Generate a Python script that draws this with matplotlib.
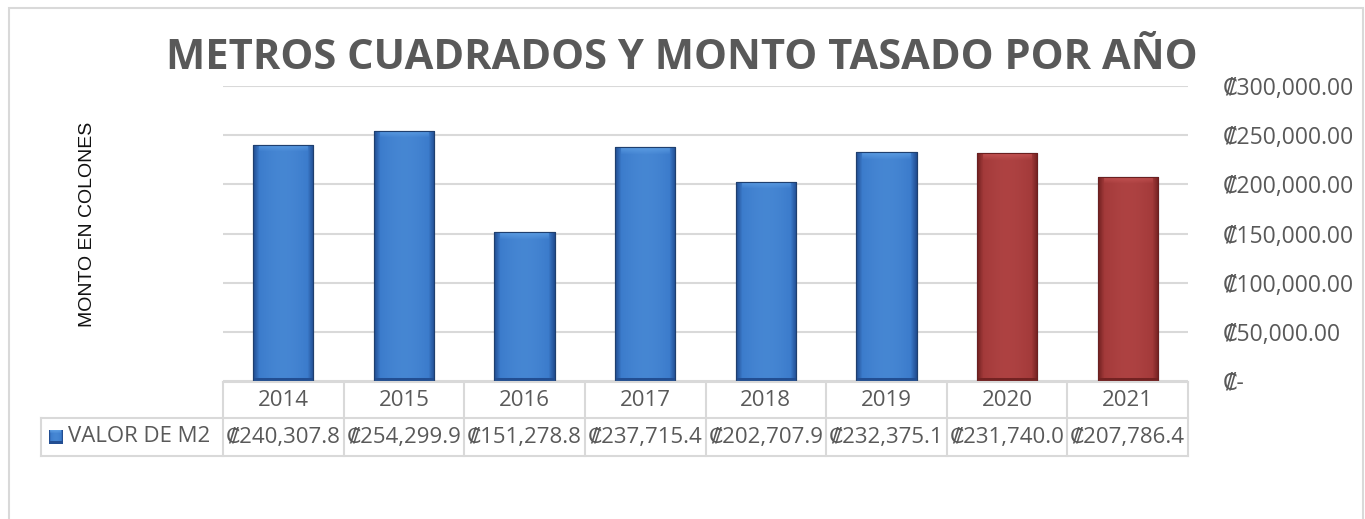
import numpy as np
import matplotlib
matplotlib.use("Agg")
import matplotlib.pyplot as plt
from matplotlib.patches import Rectangle
from matplotlib.ticker import FuncFormatter
import matplotlib.transforms as mtransforms

years = ["2014", "2015", "2016", "2017", "2018", "2019", "2020", "2021"]
values = [240307.8, 254299.9, 151278.8, 237715.4, 202707.9, 232375.1, 231740.0, 207786.4]
value_labels = ["₡240,307.8", "₡254,299.9", "₡151,278.8", "₡237,715.4",
                "₡202,707.9", "₡232,375.1", "₡231,740.0", "₡207,786.4"]
series_name = "VALOR DE M2"
title = "METROS CUADRADOS Y MONTO TASADO POR AÑO"
ylabel = "MONTO EN COLONES"
yticks = [0, 50000, 100000, 150000, 200000, 250000, 300000]

FONT = ["Open Sans", "DejaVu Sans"]
TXT = "#595959"
GRID = "#d9d9d9"

W, H = 1365, 519
fig = plt.figure(figsize=(W / 100, H / 100), dpi=100)
fig.patch.set_facecolor("white")

def px(x0, y0, x1, y1):
    return [x0 / W, 1 - y1 / H, (x1 - x0) / W, (y1 - y0) / H]

ax = fig.add_axes(px(223, 86, 1188, 381))
n = len(years)
x = np.arange(n)
ax.set_xlim(-0.5, n - 0.5)
ax.set_ylim(0, 300000)

# outer chart border
fig.add_artist(Rectangle((9 / W, -0.05), (1363 - 9) / W, 1 - 8 / H + 0.05,
                         transform=fig.transFigure, fill=False, ec=GRID, lw=1.5))

blue = dict(main=np.array([60, 124, 204]), dark=np.array([34, 78, 146]),
            light=np.array([100, 165, 232]))
red = dict(main=np.array([163, 58, 58]), dark=np.array([115, 34, 34]),
           light=np.array([205, 90, 90]))

colors = ["#3c7ccc"] * 6 + ["#a33a3a"] * 2
bars = ax.bar(x, values, width=0.5, color=colors, edgecolor="#2a4f80", lw=0.8, zorder=3)

def grad_img(pal, h_px, w_px=60, bevel=7):
    img = np.zeros((int(h_px), w_px, 3))
    for j in range(w_px):
        t = j / (w_px - 1)
        if t < 0.1:
            c = pal["dark"] + (pal["main"] - pal["dark"]) * (t / 0.1)
        elif t > 0.9:
            c = pal["dark"] + (pal["main"] - pal["dark"]) * ((1 - t) / 0.1)
        else:
            c = pal["main"] + (pal["light"] - pal["main"]) * 0.25 * np.sin(np.pi * (t - 0.1) / 0.8)
        img[:, j, :] = c
    for i in range(min(bevel, int(h_px))):
        f = 1 - i / bevel
        img[i, int(w_px * 0.1):int(w_px * 0.9), :] = (
            img[i, int(w_px * 0.1):int(w_px * 0.9), :] * (1 - 0.7 * f) + pal["light"] * 0.7 * f)
    img[-3:, :, :] = pal["dark"]
    return np.clip(img / 255.0, 0, 1)

for i, b in enumerate(bars):
    pal = blue if i < 6 else red
    x0, y0 = b.get_x(), b.get_y()
    w, h = b.get_width(), b.get_height()
    hpx = h / 300000 * 295
    im = ax.imshow(grad_img(pal, hpx), extent=[x0, x0 + w, y0, y0 + h],
                   aspect="auto", zorder=3.5, interpolation="bilinear")
    im.set_clip_path(b)
    ax.add_patch(Rectangle((x0, y0), w, h, fill=False,
                           ec="#1f3f6e" if i < 6 else "#6a2020", lw=0.8, zorder=4))
ax.set_xlim(-0.5, n - 0.5)
ax.set_ylim(0, 300000)

# grid
ax.set_yticks(yticks)
ax.grid(axis="y", color=GRID, lw=1.5, zorder=0)
for s in ax.spines.values():
    s.set_visible(False)
ax.set_xticks([])
ax.yaxis.tick_right()
ax.tick_params(axis="y", length=0, pad=25, labelsize=16.5, labelcolor=TXT)

def fmt(v, pos):
    if v == 0:
        return "₡-"
    return "₡{:,.2f}".format(v)
ax.yaxis.set_major_formatter(FuncFormatter(fmt))
for lbl in ax.get_yticklabels():
    lbl.set_family(FONT)
    lbl.set_horizontalalignment("left")

# title
fig.text(682 / W, 1 - 69 / H, title, ha="center", va="baseline", fontsize=30,
         fontweight="bold", color=TXT, family=FONT)

# y label
fig.text(88 / W, 1 - 224 / H, ylabel, rotation=90, ha="center", va="center",
         fontsize=14, color="#111111", family=["Liberation Sans", "DejaVu Sans"])

# data table
trans = mtransforms.blended_transform_factory(ax.transData, fig.transFigure)
def fy(y):
    return 1 - y / H
def fxp(xp):
    return xp / W
row1_top, row1_bot, row2_bot = 382, 418, 456
left_col = 41
ax_l, ax_r = 223, 1188
for (xa, xb, yy) in [(ax_l, ax_r, row1_top), (left_col, ax_r, row1_bot), (left_col, ax_r, row2_bot)]:
    fig.add_artist(plt.Line2D([fxp(xa), fxp(xb)], [fy(yy), fy(yy)], color=GRID, lw=1.5,
                              transform=fig.transFigure))
for k in range(n + 1):
    xv = k - 0.5
    fig.add_artist(plt.Line2D([xv, xv], [fy(row1_top), fy(row2_bot)], color=GRID, lw=1.5,
                              transform=trans))
fig.add_artist(plt.Line2D([fxp(left_col), fxp(left_col)], [fy(row1_bot), fy(row2_bot)],
                          color=GRID, lw=1.5, transform=fig.transFigure))
for k in range(n):
    fig.text(k, fy((row1_top + row1_bot) / 2), years[k], transform=trans, ha="center",
             va="center", fontsize=16, color=TXT, family=FONT)
    fig.text(k, fy((row1_bot + row2_bot) / 2), value_labels[k], transform=trans, ha="center",
             va="center", fontsize=16, color=TXT, family=FONT)
# legend key
key = fig.add_axes(px(49, 430, 63, 444))
key.imshow(grad_img(blue, 14, 14, bevel=3), aspect="auto", extent=[0, 1, 0, 1])
key.set_axis_off()
fig.text(68 / W, fy((row1_bot + row2_bot) / 2), series_name, ha="left", va="center",
         fontsize=16, color=TXT, family=FONT)

fig.savefig("out.png", dpi=100, facecolor="white")
